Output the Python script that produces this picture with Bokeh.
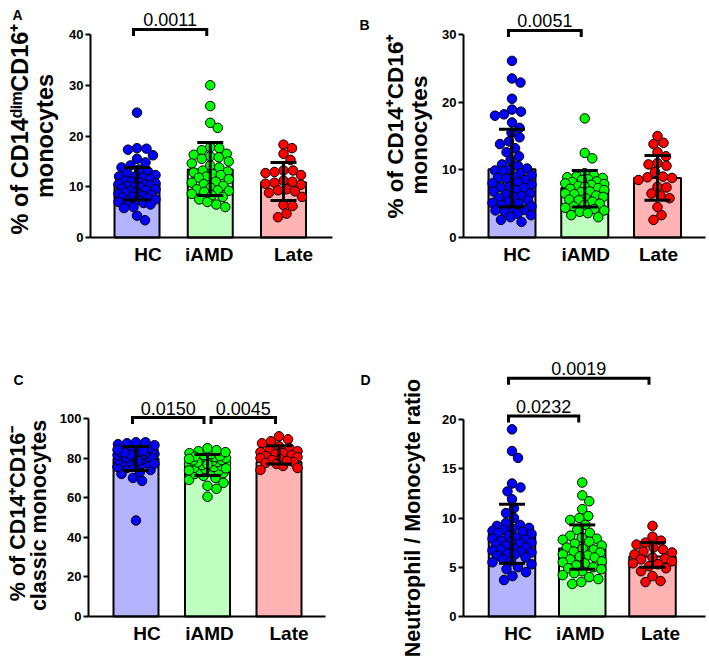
import numpy as np
from bokeh.plotting import figure
from bokeh.models import Range1d, FixedTicker, Label
from bokeh.layouts import column, row
from bokeh.embed import file_html
from bokeh.resources import INLINE
from bokeh.core.properties import value

FONT = "Liberation Sans"

categories = ["HC", "iAMD", "Late"]
point_colors = ["#0000FF", "#00FF00", "#FF0000"]
bar_colors = ["#B3B3FF", "#BFFFBF", "#FFB3B3"]

# ---------------- Panel A: CD14dim CD16+ ----------------
a_hc = [24.6, 17.6, 17.5, 17.3, 16.2, 15.5, 14.8, 14.2, 13.8, 13.4, 13.0, 12.6, 12.3, 12.0, 12.0,
        11.8, 11.5, 11.2, 11.0, 10.9, 10.7, 10.5, 10.5, 10.3, 10.1, 10.0, 9.8, 9.6, 9.5, 9.3, 9.2,
        9.0, 8.8, 8.6, 8.4, 8.2, 8.0, 7.9, 7.7, 7.5, 7.4, 7.2, 7.0, 6.8, 6.5, 6.0, 5.8, 4.3, 3.4]
a_iamd = [30.0, 25.9, 22.6, 21.6, 17.8, 17.6, 17.2, 16.5, 16.3, 16.0, 15.8, 15.5, 15.0, 14.6, 14.2,
          13.8, 13.2, 13.0, 12.8, 12.5, 12.3, 12.0, 11.8, 11.5, 11.0, 10.8, 10.5, 10.2, 9.8, 9.5,
          9.3, 9.2, 9.0, 8.6, 8.3, 8.0, 7.5, 7.0, 6.5, 6.0]
a_late = [18.3, 17.6, 16.5, 15.3, 13.2, 13.2, 12.9, 12.7, 12.3, 11.2, 11.0, 10.8, 10.6, 10.4, 9.5,
          9.3, 9.1, 8.8, 8.0, 6.4, 6.2, 4.7, 4.0]
a_mean = [10.6, 13.4, 10.9]
a_low = [7.4, 8.3, 7.3]
a_high = [13.8, 18.7, 14.8]
a_ticks = [0, 10, 20, 30, 40]
a_label = ["% of CD14\u1d48\u2071\u1d50CD16\u207a", "monocytes"]
a_brackets = [(0, 1, "0.0011", 41.0)]

# ---------------- Panel B: CD14+ CD16+ ----------------
b_hc = [26.1, 23.5, 22.9, 20.5, 18.9, 18.6, 18.2, 18.0, 17.0, 16.2, 15.5, 14.8, 14.2, 13.8, 13.2,
        12.6, 12.0, 11.4, 10.8, 10.6, 10.2, 10.0, 9.9, 9.8, 9.5, 9.2, 9.0, 8.8, 8.7, 8.5, 8.2, 8.0,
        7.8, 7.5, 7.4, 7.3, 7.0, 6.8, 6.5, 6.3, 6.1, 6.0, 5.8, 5.5, 5.3, 5.1, 5.0, 4.8, 4.6, 4.3,
        4.1, 4.0, 3.8, 3.5, 3.3, 3.0, 2.6, 2.3]
b_iamd = [17.6, 12.5, 11.7, 9.5, 9.2, 9.0, 8.9, 8.8, 8.6, 8.5, 8.3, 8.2, 8.0, 7.9, 7.8, 7.6, 7.5,
          7.3, 7.2, 7.0, 6.8, 6.7, 6.5, 6.4, 6.2, 6.0, 5.8, 5.6, 5.5, 5.3, 5.0, 4.8, 4.6, 4.4, 4.2,
          4.0, 3.8, 3.6, 3.3, 3.0]
b_late = [15.0, 14.0, 13.8, 12.6, 12.0, 11.0, 10.8, 10.6, 9.7, 9.0, 8.9, 8.8, 8.5, 7.5, 7.4, 6.5,
          6.2, 5.8, 4.5, 3.3, 2.6]
b_mean = [10.1, 7.3, 8.8]
b_low = [4.5, 4.5, 5.5]
b_high = [16.0, 9.9, 12.1]
b_ticks = [0, 10, 20, 30]
b_label = ["% of CD14\u207aCD16\u207a", "monocytes"]
b_brackets = [(0, 1, "0.0051", 30.6)]

# ---------------- Panel C: classic monocytes ----------------
c_hc = [48.5, 68.5, 70.0, 72.0, 73.0, 74.0, 75.0, 75.5, 76.0, 77.0, 77.5, 78.0, 78.5, 79.0, 79.5,
        80.0, 80.5, 81.0, 81.0, 81.5, 82.0, 82.0, 82.5, 82.5, 83.0, 83.0, 83.0, 83.5, 83.5, 84.0,
        84.0, 84.5, 85.0, 85.5, 86.0, 86.5, 87.0, 87.5, 88.0, 88.0, 80.2, 81.8, 82.8, 79.8, 84.2,
        78.6, 77.2, 83.8]
c_iamd = [60.5, 64.5, 66.0, 67.5, 69.0, 70.0, 71.0, 72.0, 72.5, 73.0, 73.5, 74.0, 74.5, 75.0, 75.5,
          76.0, 76.5, 77.0, 77.5, 78.0, 78.5, 79.0, 79.0, 79.5, 80.0, 80.0, 80.5, 81.0, 81.5, 82.0,
          82.5, 83.0, 83.5, 84.0, 85.0, 76.8, 77.8, 78.8, 74.8, 73.8, 80.8, 79.6]
c_late = [91.0, 89.5, 88.5, 87.5, 86.0, 85.0, 84.0, 83.5, 83.0, 82.5, 82.0, 81.5, 81.0, 80.5, 80.0,
          79.5, 79.0, 78.0, 77.5, 77.0, 76.0, 75.0, 74.0, 78.6]
c_mean = [79.8, 76.0, 78.0]
c_low = [73.7, 71.2, 77.0]
c_high = [85.9, 81.8, 86.2]
c_ticks = [0, 20, 40, 60, 80, 100]
c_label = ["% of CD14\u207aCD16\u207b", "classic monocytes"]
c_brackets = [(0, 1, "0.0150", 100.5), (1, 2, "0.0045", 100.5)]

# ---------------- Panel D: neutrophil / monocyte ratio ----------------
d_hc = [19.0, 16.8, 16.1, 13.5, 13.1, 12.7, 11.9, 11.0, 10.5, 10.0, 9.5, 9.3, 9.2, 9.0, 8.9, 8.8,
        8.7, 8.6, 8.5, 8.4, 8.2, 8.0, 7.9, 7.8, 7.7, 7.6, 7.5, 7.4, 7.3, 7.2, 7.0, 6.9, 6.8, 6.7,
        6.6, 6.5, 6.4, 6.3, 6.2, 6.0, 5.8, 5.6, 5.5, 5.3, 5.0, 4.8, 4.5, 4.1, 3.7]
d_iamd = [13.6, 12.3, 11.7, 10.9, 10.2, 10.0, 9.8, 9.3, 8.8, 8.5, 8.2, 8.0, 7.9, 7.8, 7.6, 7.4, 7.2,
          7.0, 6.9, 6.8, 6.6, 6.5, 6.3, 6.2, 6.1, 6.0, 5.8, 5.6, 5.5, 5.4, 5.2, 5.0, 4.9, 4.8, 4.6,
          4.4, 4.2, 4.0, 3.8, 3.5, 3.3]
d_late = [9.2, 8.1, 7.7, 7.5, 7.3, 7.0, 6.8, 6.6, 6.5, 6.3, 6.0, 5.9, 5.8, 5.6, 5.4, 5.3, 5.1, 4.9,
          4.6, 4.1, 3.6, 3.5]
d_mean = [8.4, 6.9, 6.1]
d_low = [5.4, 4.8, 5.0]
d_high = [11.4, 9.3, 7.5]
d_ticks = [0, 5, 10, 15, 20]
d_label = ["Neutrophil / Monocyte ratio"]
d_brackets = [(0, 1, "0.0232", 20.35), (0, 2, "0.0019", 24.2)]

DOT = 9.5
W, H = 354, 329


def swarm(vals, sx, sy, diam, maxoff):
    vals = np.asarray(vals, dtype=float)
    order = np.argsort(-vals, kind="stable")
    cands = [0.0]
    k = 1
    while k * 0.5 <= maxoff:
        cands += [k * 0.5, -k * 0.5]
        k += 1
    placed = []
    offs = np.zeros(len(vals))
    for i in order:
        ypx = vals[i] * sy
        chosen, bestc, bestd = None, 0.0, -1.0
        for c in cands:
            dmin = min((np.hypot(c - px, ypx - py) for px, py in placed), default=1e9)
            if dmin >= diam * 0.95:
                chosen = c
                break
            if dmin > bestd:
                bestd, bestc = dmin, c
        if chosen is None:
            chosen = bestc
        offs[i] = chosen
        placed.append((chosen, ypx))
    return offs / sx


def panel(letter, groups, means, lows, highs, ticks, label_lines, brackets, geo):
    # geo: pixel layout inside this figure (whole canvas is the plot frame)
    (axis_x, c1, spacing, base_y, top_y, right_x, barw_px, letter_xy,
     label_base, label_shift, label_fs, cat_shift) = geo
    sx = spacing
    sy = (base_y - top_y) / ticks[-1]
    x0 = 1 - c1 / sx

    def X(px):
        return x0 + px / sx

    def Y(py):
        return (base_y - py) / sy

    p = figure(width=W, height=H, output_backend="svg", toolbar_location=None,
               x_range=Range1d(X(0), X(W)), y_range=Range1d(Y(H), Y(0)),
               min_border=0, min_border_left=0, min_border_right=0,
               min_border_top=0, min_border_bottom=0)
    p.outline_line_color = None
    p.grid.grid_line_color = None
    p.background_fill_color = "white"
    p.border_fill_color = "white"
    xs = [1, 2, 3]
    barw = barw_px / sx

    p.vbar(x=xs, top=means, width=barw, bottom=0, fill_color=bar_colors,
           line_color="black", line_width=2)
    for gi, vals in enumerate(groups):
        offs = swarm(vals, sx, sy, DOT, barw_px / 2 - DOT / 2 + 1)
        p.scatter(x=list(xs[gi] + offs), y=vals, size=DOT, fill_color=point_colors[gi],
                  line_color="black", line_width=1)
    p.segment(x0=xs, y0=lows, x1=xs, y1=highs, line_color="black", line_width=3)
    p.scatter(x=xs + xs, y=list(lows) + list(highs), marker="dash", size=26,
              line_color="black", line_width=3)

    gap = 3.5 / sx
    for (g0, g1, txt, yb) in brackets:
        xa = xs[g0] + (gap if g0 == 1 else -gap)
        xb = xs[g1] - gap
        t = 6.5 / sy
        p.multi_line(xs=[[xa, xa, xb, xb]], ys=[[yb - t, yb, yb, yb - t]],
                     line_color="black", line_width=3, line_join="miter")
        p.text(x=[(xa + xb) / 2], y=[yb + 3 / sy], text=[txt], text_align="center",
               text_baseline="bottom", text_font=value(FONT), text_font_size="18px",
               text_color="black")

    # axes drawn at fixed data locations inside the frame
    p.yaxis.fixed_location = X(axis_x)
    p.xaxis.fixed_location = 0
    p.yaxis.ticker = FixedTicker(ticks=ticks)
    p.yaxis.bounds = (ticks[0], ticks[-1])
    label_pos = [float(x + s / sx) for x, s in zip(xs, cat_shift)]
    p.xaxis.ticker = FixedTicker(ticks=label_pos)
    p.xaxis.bounds = (X(axis_x), X(right_x))
    p.xaxis.major_label_overrides = {lp: c for lp, c in zip(label_pos, categories)}
    for ax in (p.xaxis[0], p.yaxis[0]):
        ax.axis_line_width = 2
        ax.axis_line_color = "black"
        ax.major_tick_line_width = 2
        ax.major_tick_line_color = "black"
        ax.minor_tick_line_color = None
        ax.major_tick_in = 0
        ax.major_label_text_font = FONT
        ax.major_label_text_font_style = "bold"
        ax.major_label_text_color = "black"
    p.yaxis.major_tick_out = 5
    p.yaxis.major_label_standoff = 2
    p.yaxis.major_label_text_font_size = "13px"
    p.xaxis.major_tick_out = 0
    p.xaxis.major_label_standoff = 6
    p.xaxis.major_label_text_font_size = "19px"

    # y-axis title (centred on the axis line); anchor = text middle, left of baseline
    mid_px = (base_y + top_y) / 2
    for line, lb, sh in zip(label_lines, label_base, label_shift):
        p.add_layout(Label(x=X(lb - 0.35 * label_fs), y=Y(mid_px + sh), text=line,
                           angle=np.pi / 2, text_align="center", text_baseline="middle",
                           text_font=FONT, text_font_style="bold",
                           text_font_size=f"{label_fs}px", text_color="black"))
    # panel letter
    p.add_layout(Label(x=X(letter_xy[0]), y=Y(letter_xy[1]), text=letter,
                       text_align="left", text_baseline="top", text_font=FONT,
                       text_font_style="bold", text_font_size="14px", text_color="black"))
    return p


pA = panel("A", [a_hc, a_iamd, a_late], a_mean, a_low, a_high, a_ticks, a_label, a_brackets,
           (90, 136.5, 73.25, 237, 34, 332, 45, (12, 6), (28, 53), (-7, 0), 23.5, (11, -1, 10)))
pB = panel("B", [b_hc, b_iamd, b_late], b_mean, b_low, b_high, b_ticks, b_label, b_brackets,
           (109, 157.5, 72.75, 237, 34, 351, 47, (5, 16), (49, 73), (-10, -1), 22.5, (5, 1, 1)))
pC = panel("C", [c_hc, c_iamd, c_late], c_mean, c_low, c_high, c_ticks, c_label, c_brackets,
           (88, 135.5, 71.5, 287, 89, 325, 45, (13, 42), (25, 46), (-4, -2), 21.5, (11, 2, 10)))
pD = panel("D", [d_hc, d_iamd, d_late], d_mean, d_low, d_high, d_ticks, d_label, d_brackets,
           (109, 157.5, 70.25, 287, 90, 351, 46.5, (6, 42), (66,), (0,), 21.5, (6, -2, 8)))

layout = column(row(pA, pB), row(pC, pD))
open("out.html", "w").write(file_html(layout, INLINE))
